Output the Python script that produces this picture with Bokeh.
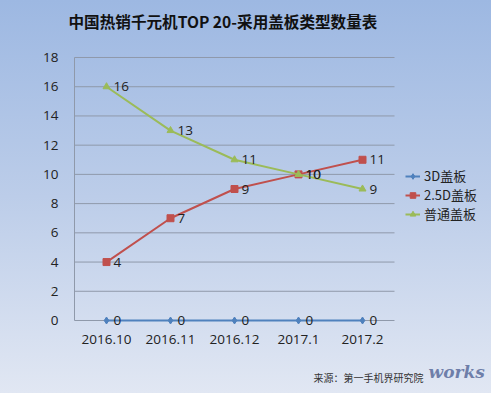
from bokeh.plotting import figure
from bokeh.models import Legend, LegendItem, Label, ColumnDataSource
from bokeh.core.properties import value
from bokeh.layouts import column
from bokeh.embed import file_html
from bokeh.resources import INLINE

categories = ["2016.10", "2016.11", "2016.12", "2017.1", "2017.2"]
series_names = ["3D盖板", "2.5D盖板", "普通盖板"]
v_3d = [0, 0, 0, 0, 0]
v_25d = [4, 7, 9, 10, 11]
v_normal = [16, 13, 11, 10, 9]
y_ticks = [0, 2, 4, 6, 8, 10, 12, 14, 16, 18]

title_text = "中国热销千元机TOP 20-采用盖板类型数量表"
source_text = "来源：第一手机界研究院"
watermark_text = "works"

colors = ["#4F81BD", "#C0504D", "#9BBB59"]
markers = ["diamond", "square", "triangle"]
series_vals = [v_3d, v_25d, v_normal]

FONT = "Open Sans"
CJK = "Noto Sans CJK SC"
GRID = "#8f99aa"
TXT = "#222222"

xpos = list(range(len(categories)))
n = len(categories)

# frame covers nearly whole canvas so that every text stays unclipped
p = figure(width=491, height=393, x_range=(-0.71875, 6.015625), y_range=(-4.996, 21.901),
           output_backend="svg", toolbar_location=None,
           min_border_left=60, min_border_right=0, min_border_top=0, min_border_bottom=0)
p.background_fill_alpha = 0
p.border_fill_alpha = 0
p.outline_line_color = None
p.grid.visible = False
p.xaxis.visible = False

p.yaxis.ticker = y_ticks
p.yaxis.axis_line_color = None
p.yaxis.major_tick_line_color = None
p.yaxis.minor_tick_line_color = None
p.yaxis.major_tick_out = 0
p.yaxis.major_tick_in = 0
p.yaxis.major_label_standoff = 2
p.yaxis.major_label_text_font = FONT
p.yaxis.major_label_text_font_size = "13.5px"
p.yaxis.major_label_text_color = TXT

# horizontal gridlines over the category band, and the vertical value-axis line
p.segment(x0=[-0.5] * len(y_ticks), x1=[n - 0.5] * len(y_ticks), y0=y_ticks, y1=y_ticks,
          line_color=GRID, line_width=1)
p.segment(x0=[-0.5], x1=[-0.5], y0=[y_ticks[0]], y1=[y_ticks[-1]], line_color=GRID, line_width=1)

# category labels
p.text(x=xpos, y=[y_ticks[0]] * n, text=categories, y_offset=19, text_align="center",
       text_baseline="middle", text_font=value(FONT), text_font_size="13.5px", text_color=TXT)

items = []
for name, vals, c, m in zip(series_names, series_vals, colors, markers):
    src = ColumnDataSource(dict(x=xpos, y=vals, t=[str(v) for v in vals]))
    ln = p.line("x", "y", source=src, line_color=c, line_width=2)
    sc = p.scatter("x", "y", source=src, marker=m, size=7, fill_color=c, line_color=c)
    items.append(LegendItem(label=name, renderers=[ln, sc]))
    p.text("x", "y", text="t", source=src, x_offset=7, text_baseline="middle", text_align="left",
           text_font=value(FONT), text_font_size="13.5px", text_color=TXT)

legend = Legend(items=items, location=(345, 170), orientation="vertical",
                label_text_font=CJK, label_text_font_size="13px", label_text_color=TXT,
                glyph_width=15, glyph_height=14, label_height=14, label_standoff=4, spacing=0,
                padding=0, margin=0, background_fill_alpha=0, border_line_color=None)
p.add_layout(legend)

p.add_layout(Label(x=8, y=373, x_units="screen", y_units="screen", text=title_text,
                   text_font=CJK, text_font_size="15.6px", text_font_style="bold",
                   text_color="#111111", text_baseline="middle", text_align="left"))
p.add_layout(Label(x=253, y=16, x_units="screen", y_units="screen", text=source_text,
                   text_font=CJK, text_font_size="10px", text_color="#333333",
                   text_baseline="middle", text_align="left"))
p.add_layout(Label(x=368, y=22, x_units="screen", y_units="screen", text=watermark_text,
                   text_font="DejaVu Serif", text_font_size="17px", text_font_style="bold italic",
                   text_color="#5a6c9c", text_alpha=0.85, text_baseline="middle", text_align="left"))

layout = column(p, styles={"background": "linear-gradient(180deg, #9db8e2 0%, #bccde9 50%, #e1e7f3 100%)"})
open("out.html", "w").write(file_html(layout, INLINE))
